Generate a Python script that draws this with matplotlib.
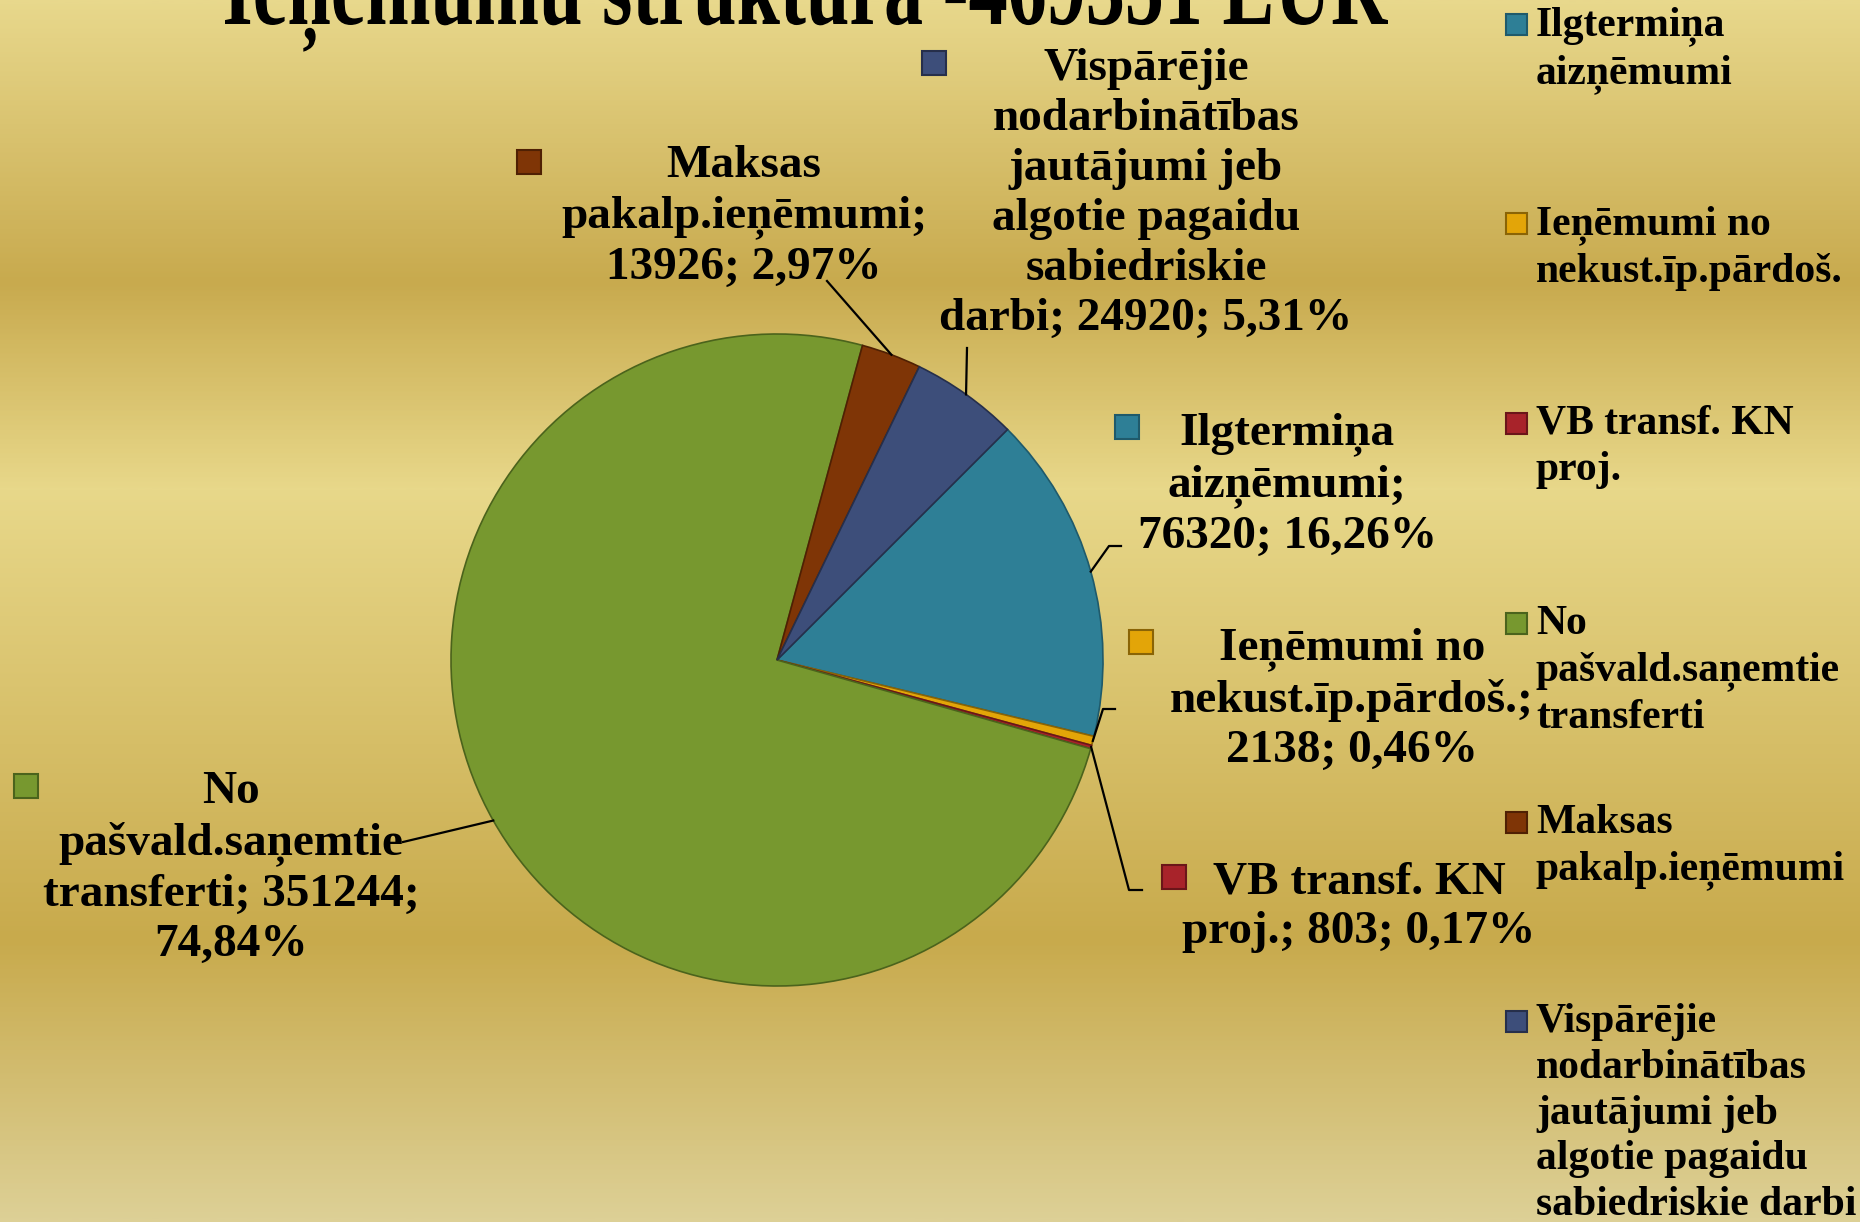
import numpy as np
import matplotlib
matplotlib.use("Agg")
import matplotlib.pyplot as plt
from matplotlib.colors import LinearSegmentedColormap
from matplotlib.font_manager import FontProperties
from matplotlib.patches import PathPatch, Rectangle
from matplotlib.textpath import TextPath
from matplotlib.transforms import Affine2D

# --- data ---
title = "Ieņēmumu struktura -469351 EUR"
categories = [
    "Ilgtermiņa aizņēmumi",
    "Ieņēmumi no nekust.īp.pārdoš.",
    "VB transf. KN proj.",
    "No pašvald.saņemtie transferti",
    "Maksas pakalp.ieņēmumi",
    "Vispārējie nodarbinātības jautājumi jeb algotie pagaidu sabiedriskie darbi",
]
values = [76320, 2138, 803, 351244, 13926, 24920]

# wrapped as in the original slide
label_names = [
    "Ilgtermiņa\naizņēmumi;",
    "Ieņēmumi no\nnekust.īp.pārdoš.;",
    "VB transf. KN\nproj.;",
    "No\npašvald.saņemtie\ntransferti;",
    "Maksas\npakalp.ieņēmumi;",
    "Vispārējie\nnodarbinātības\njautājumi jeb\nalgotie pagaidu\nsabiedriskie\ndarbi;",
]
value_breaks = [True, True, False, False, True, False]  # value starts new line?
pct_breaks = [False, False, False, True, False, False]
legend_names = [
    "Ilgtermiņa\naizņēmumi",
    "Ieņēmumi no\nnekust.īp.pārdoš.",
    "VB transf. KN\nproj.",
    "No\npašvald.saņemtie\ntransferti",
    "Maksas\npakalp.ieņēmumi",
    "Vispārējie\nnodarbinātības\njautājumi jeb\nalgotie pagaidu\nsabiedriskie darbi",
]

colors = ["#2e7f96", "#e3a508", "#a8232a", "#77982f", "#7f3506", "#3d4e7a"]
edges = ["#1f5a6b", "#8a6405", "#6b1519", "#4b631c", "#4f2003", "#262f4b"]

# --- layout (pixel coords, y measured from top) ---
W, H = 1860, 1222
center = (777, 660)
radius = 326
# label block: center x, first line y, key x, key y
label_layout = [
    (1287, 429, 1127, 427),
    (1352, 644, 1141, 642),
    (1359, 878, 1174, 877),
    (231, 788, 26, 786),
    (744, 162, 529, 162),
    (1146, 65, 934, 63),
]
# leader elbows after the slice-edge point
leader_pts = [
    [(1109, 546), (1121, 546)],
    [(1103, 709), (1115, 709)],
    [(1129, 890), (1142, 890)],
    [(403, 842)],
    [(827, 281)],
    [(967, 348)],
]
legend_x = 1506
legend_y = [24, 223, 423, 623, 822, 1021]


def px(x, y):
    return x, H - y


fig = plt.figure(figsize=(W / 100, H / 100), dpi=100)
ax = fig.add_axes([0, 0, 1, 1])

# gradient background
bg = LinearSegmentedColormap.from_list(
    "bg",
    [(0.0, "#e8d88c"), (0.23, "#c8aa4e"), (0.40, "#e8d88a"),
     (0.77, "#c8aa4c"), (1.0, "#ddd096")],
)
grad = np.linspace(0, 1, 512).reshape(-1, 1)
ax.imshow(grad, cmap=bg, aspect="auto", extent=[0, W, 0, H],
          origin="upper", zorder=0)

total = sum(values)
wedges, _ = ax.pie(
    values,
    colors=colors,
    startangle=45,
    counterclock=False,
    center=px(*center),
    radius=radius,
    wedgeprops=dict(linewidth=1.2),
    frame=True,
)
for w, ec in zip(wedges, edges):
    w.set_edgecolor(ec)
    w.set_zorder(2)
ax.set_xlim(0, W)
ax.set_ylim(0, H)
ax.set_aspect("equal")
ax.axis("off")

font = ["Liberation Serif", "DejaVu Serif"]
cx, cy = px(*center)

for i, v in enumerate(values):
    pct = f"{v / total * 100:.2f}".replace(".", ",") + "%"
    txt = label_names[i]
    txt += "\n" if value_breaks[i] else " "
    txt += f"{v};"
    txt += "\n" if pct_breaks[i] else " "
    txt += pct
    tx, y0, kx, ky = label_layout[i]
    ax.text(tx, H - y0 + 17, txt, ha="center", va="top",
            multialignment="center",
            fontsize=34, fontweight="bold", family=font,
            linespacing=1.25, zorder=4)
    ax.add_patch(Rectangle((kx - 12, H - ky - 12), 24, 24,
                           facecolor=colors[i], edgecolor=edges[i],
                           linewidth=1.5, zorder=4))
    w = wedges[i]
    mid = np.deg2rad((w.theta1 + w.theta2) / 2)
    xs = [cx + radius * np.cos(mid)]
    ys = [cy + radius * np.sin(mid)]
    for (lx, ly) in leader_pts[i]:
        xs.append(lx)
        ys.append(H - ly)
    ax.plot(xs, ys, color="black", linewidth=1.6, zorder=3)

# legend
for i, name in enumerate(legend_names):
    y = H - legend_y[i]
    ax.add_patch(Rectangle((legend_x, y - 11), 21, 21,
                           facecolor=colors[i], edgecolor=edges[i],
                           linewidth=1.5, zorder=4))
    ax.text(legend_x + 30, y + 18, name, ha="left", va="top",
            fontsize=30, fontweight="bold", family=font,
            linespacing=1.27, zorder=4)

# condensed, partly cut-off title
tp = TextPath((0, 0), title, size=100,
              prop=FontProperties(family="Liberation Serif", weight="bold"))
ext = tp.get_extents()
sx = 1163 / ext.width
sy = sx / 0.72
tr = Affine2D().translate(-ext.x0, 0).scale(sx, sy).translate(225, H - 24)
ax.add_patch(PathPatch(tr.transform_path(tp), facecolor="black",
                       edgecolor="none", zorder=5))

fig.savefig("out.png", dpi=100)
